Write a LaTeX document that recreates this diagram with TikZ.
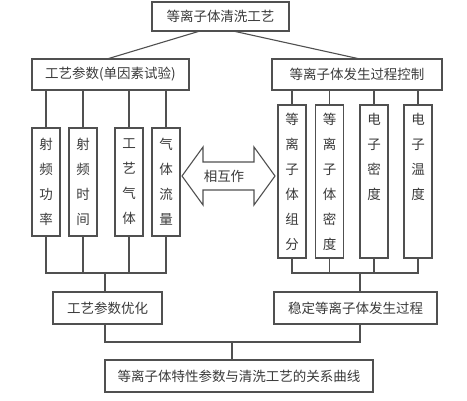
\documentclass[tikz,border=0pt]{standalone}
\usepackage{fontspec}
\setmainfont{Noto Sans CJK SC}
\usepackage{tikz}
\usetikzlibrary{positioning,calc}
\definecolor{linegray}{HTML}{505050}
\definecolor{textgray}{HTML}{3A3A3A}
\tikzset{box/.style={draw=linegray,line width=1.1pt,text=textgray,inner sep=0pt,font=\fontsize{13.5}{25}\selectfont}}
\tikzset{vbox/.style={box,align=center,minimum width=28pt}}
\tikzset{link/.style={draw=linegray,line width=1.1pt}}

\begin{document}
\begin{tikzpicture}[x=1pt,y=-1pt]
                \useasboundingbox (0,0) rectangle (467,401);
                \node[box,minimum width=137pt,minimum height=29pt] (top) at (220.5,16.5) {等离子体清洗工艺};
                \node[box,minimum width=157pt,minimum height=31pt] (para) at (110.5,74.5) {工艺参数(单因素试验)};
                \node[box,minimum width=170pt,minimum height=31pt] (ctrl) at (357,74.5) {等离子体发生过程控制};
                \node[vbox,minimum height=108pt] (p1) at (46,182) {射\\频\\功\\率};
                \node[vbox,minimum height=108pt] (p2) at (83,182) {射\\频\\时\\间};
                \node[vbox,minimum height=108pt] (p3) at (129,182) {工\\艺\\气\\体};
                \node[vbox,minimum height=108pt] (p4) at (166,182) {气\\体\\流\\量};
                \node[vbox,minimum height=153pt] (c1) at (292,181.5) {等\\离\\子\\体\\组\\分};
                \node[vbox,minimum height=153pt] (c2) at (329.5,181.5) {等\\离\\子\\体\\密\\度};
                \node[vbox,minimum height=153pt] (c3) at (374,181.5) {电\\子\\密\\度\\~\\~};
                \node[vbox,minimum height=153pt] (c4) at (418,181.5) {电\\子\\温\\度\\~\\~};
                \node[box,minimum width=109pt,minimum height=32pt] (opt) at (107.5,308) {工艺参数优化};
                \node[box,minimum width=163pt,minimum height=32pt] (stab) at (355.5,308) {稳定等离子体发生过程};
                \node[box,minimum width=268pt,minimum height=32pt] (curve) at (239,376) {等离子体特性参数与清洗工艺的关系曲线};
                % double arrow between the two groups
                \draw[link] (182,176) -- (203,147) -- (203,162) -- (254,162) -- (254,147) -- (275,176)
                    -- (254,205) -- (254,190) -- (203,190) -- (203,205) -- cycle;
                \node[text=textgray,font=\fontsize{13.5}{16}\selectfont] (inter) at (224,176) {相互作};
                % top level
                \coordinate (tl) at (200,31);
                \coordinate (tr) at (233,31);
                \draw[link] (tl) -- (107,59);
                \draw[link] (tr) -- (360,59);
                \foreach \b in {p1,p2,p3,p4}
                    \draw[link] (\b.north) -- (\b.north |- para.south);
                \foreach \b in {c1,c2,c3,c4}
                    \draw[link] (\b.north) -- (\b.north |- ctrl.south);
                % merging lines
                \coordinate (jl) at (105,273);
                \coordinate (jr) at (360,273);
                \draw[link] (p1.south) -- (p1.south |- jl) -- (p4.south |- jl) -- (p4.south);
                \draw[link] (p2.south) -- (p2.south |- jl);
                \draw[link] (p3.south) -- (p3.south |- jl);
                \draw[link] (jl) -- (jl |- opt.north);
                \draw[link] (c1.south) -- (c1.south |- jr) -- (c4.south |- jr) -- (c4.south);
                \draw[link] (c2.south) -- (c2.south |- jr);
                \draw[link] (c3.south) -- (c3.south |- jr);
                \draw[link] (jr) -- (jr |- stab.north);
                \coordinate (jb) at (232,342);
                \draw[link] (opt.south -| jl) -- (jl |- jb) -- (jr |- jb) -- (stab.south -| jr);
                \draw[link] (jb) -- (jb |- curve.north);
\end{tikzpicture}
\end{document}
